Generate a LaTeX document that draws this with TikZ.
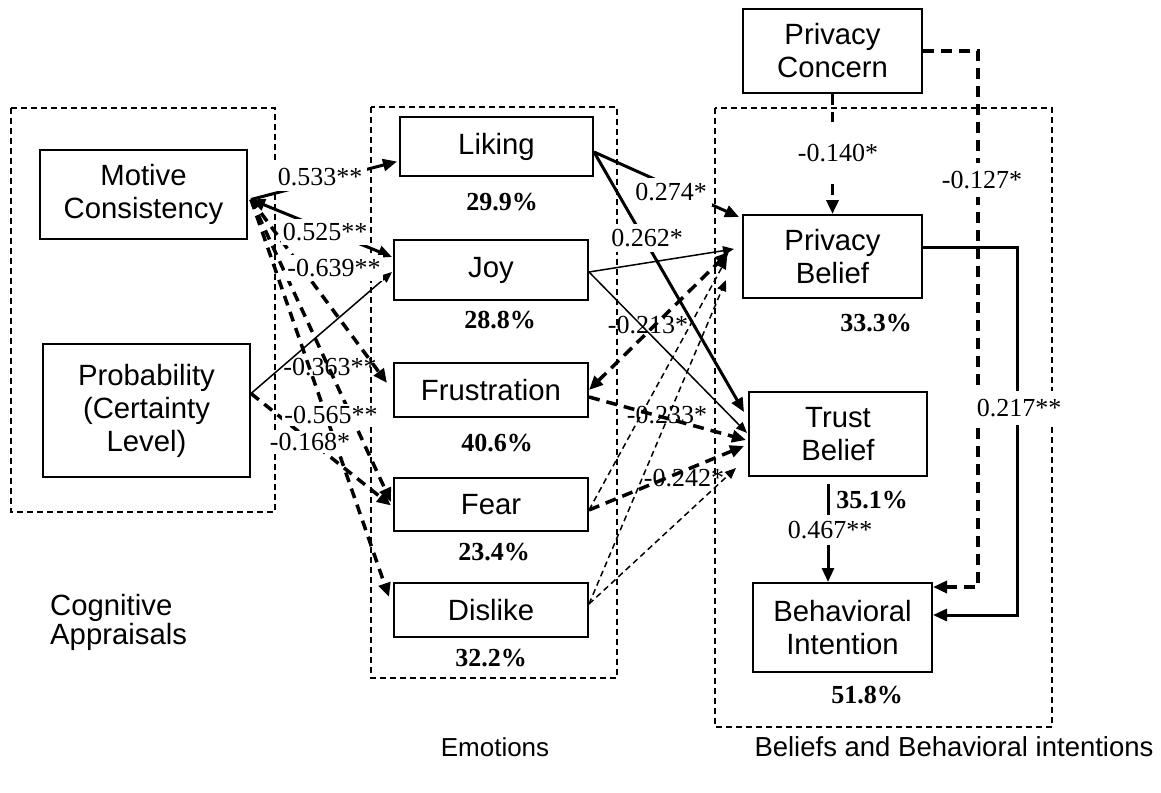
\documentclass[tikz,border=0pt]{standalone}
\usepackage{fontspec}
\setmainfont{Liberation Sans}
\newfontfamily\tnr{Liberation Serif}
\usetikzlibrary{arrows.meta,calc}

\tikzset{
  fattip/.tip={Triangle[length=14pt,width=12pt]},
  thintip/.tip={Triangle[length=11pt,width=9pt]},
  box/.style={draw,line width=2pt,fill=white,align=center,inner sep=0pt,
    font=\fontsize{29.3}{33}\selectfont},
  group/.style={draw,line width=1.4pt,dash pattern=on 6pt off 4pt},
  coef/.style={font=\tnr\fontsize{26}{30}\selectfont,inner sep=0pt},
  coefw/.style={coef,fill=white,inner xsep=2pt,inner ysep=4pt},
  pct/.style={font=\tnr\bfseries\fontsize{26}{30}\selectfont,inner sep=0pt},
  caption/.style={font=\fontsize{27.5}{31}\selectfont,align=left,inner sep=0pt},
  solidfat/.style={line width=3pt,-fattip},
  solidthin/.style={line width=1.5pt,-thintip},
  dashfat/.style={line width=3.5pt,dash pattern=on 11pt off 7pt,-fattip},
  dashthin/.style={line width=1.5pt,dash pattern=on 6pt off 4pt,-thintip},
}

\begin{document}
\begin{tikzpicture}[x=1pt,y=-1pt]
\useasboundingbox (0,0) rectangle (1161,792);

% construct groups
\draw[group] (11,108) rectangle (275,512);
\draw[group] (371,107) rectangle (617,678);
\draw[group] (715,108) rectangle (1052,727);

% appraisals
\node[box,minimum width=207pt,minimum height=89pt] (mc) at (143.5,194.5) {Motive\\Consistency};
\node[box,minimum width=207pt,minimum height=133pt] (prob) at (146.5,410.5) {Probability\\(Certainty\\Level)};

% emotions
\node[box,minimum width=193pt,minimum height=59pt] (liking) at (496.5,146.5) {Liking};
\node[box,minimum width=194pt,minimum height=60pt] (joy) at (491,270) {Joy};
\node[box,minimum width=194pt,minimum height=54pt] (frus) at (491,390) {Frustration};
\node[box,minimum width=194pt,minimum height=53pt] (fear) at (491,504.5) {Fear};
\node[box,minimum width=194pt,minimum height=54pt] (dislike) at (491,610) {Dislike};

% beliefs and intention
\node[box,minimum width=179pt,minimum height=84pt] (pc) at (832.5,51) {Privacy\\Concern};
\node[box,minimum width=179pt,minimum height=83pt] (pb) at (832.5,256.5) {Privacy\\Belief};
\node[box,minimum width=178pt,minimum height=84pt] (tb) at (838,434) {Trust\\Belief};
\node[box,minimum width=179pt,minimum height=89pt] (bi) at (842.5,627.5) {Behavioral\\Intention};

% start points
\coordinate (mcout) at ([xshift=3pt,yshift=-5pt]mc.east);
\coordinate (probout) at ([yshift=17pt]prob.east);
\coordinate (likout) at ([yshift=-5.5pt]liking.east);
\coordinate (joyout) at ([yshift=-2pt]joy.east);
\coordinate (fearout) at ([yshift=-5.5pt]fear.east);
\coordinate (disout) at ([yshift=6pt]dislike.east);

% appraisals -> emotions
\draw[solidfat] (mcout) -- ([xshift=-2pt,yshift=-15pt]liking.west);
\draw[solidfat,fattip-fattip] (mcout) -- ([xshift=-1pt,yshift=13pt]joy.west);
\draw[dashfat,dash pattern=on 10pt off 7pt] (mcout) -- ([xshift=-6pt,yshift=7pt]frus.west);
\draw[dashfat,dash pattern=on 10pt off 7pt] (mcout) -- ([xshift=-2pt,yshift=2.5pt]fear.west);
\draw[dashfat,dash pattern=on 10pt off 7pt] (mcout) -- ([xshift=-4pt,yshift=13pt]dislike.west);
\draw[solidthin] (probout) -- ([xshift=-1pt,yshift=-2pt]joy.west);
\draw[dashfat,dash pattern=on 10pt off 7pt] (probout) -- ([xshift=-2pt,yshift=-1pt]fear.west);

% emotions -> beliefs
\draw[solidfat] (likout) -- ([xshift=-3pt,yshift=-3pt]pb.north west);
\draw[solidfat] (likout) -- ([xshift=-4pt,yshift=22pt]tb.west);
\draw[solidthin] (joyout) -- ([xshift=-8pt,yshift=7.5pt]pb.west);
\draw[solidthin] (joyout) -- ([xshift=-1pt,yshift=1pt]tb.west);
\draw[dashfat,fattip-fattip] (frus.east) -- ([xshift=-13pt,yshift=4.5pt]pb.west);
\draw[dashfat] ([yshift=-7pt]frus.east) -- ([xshift=-2pt,yshift=-6pt]tb.west);
\draw[dashfat] (fearout) -- ([xshift=-4pt,yshift=-12pt]tb.west);
\draw[dashthin] (fearout) -- ([xshift=-15pt,yshift=-1.5pt]pb.west);
\draw[dashthin] (disout) -- ([xshift=-16pt,yshift=-23.5pt]pb.west);
\draw[dashthin] (disout) -- ([xshift=-12pt,yshift=-34pt]tb.west);

% beliefs -> intention
\draw[dashfat] (pc.south) -- (pb.north);
\draw[dashfat] (pc.east) -- ++(55,0) |- ([yshift=-5pt]bi.north east);
\draw[solidfat] ([yshift=9.5pt]pb.east) -- ++(94,0) |- ([yshift=12.5pt]bi.east);
\coordinate (tbx) at ($(tb.south)+(-10,0)$);
\draw[solidfat] ($(tbx)+(0,7)$) -- (tbx |- bi.north);

% path coefficients
\node[coefw,inner sep=5pt] (c1) at (320,177) {0.533**};
\node[coefw] (c2) at (325,232) {0.525**};
\node[coefw] (c3) at (334,268) {-0.639**};
\node[coef] (c4) at (330,367) {-0.363**};
\node[coefw,inner ysep=2pt] (c5) at (331,415) {-0.565**};
\node[coefw,inner ysep=2pt] (c6) at (310,442) {-0.168*};
\node[coefw,inner sep=5pt] (c7) at (671,192) {0.274*};
\node[coefw,inner sep=5pt] (c8) at (647,238) {0.262*};
\node[coef] (c9) at (648,325) {-0.213*};
\node[coef] (c10) at (667,415) {-0.233*};
\node[coef] (c11) at (684,478) {-0.242*};
\node[coefw,inner ysep=22pt] (c12) at (838,153) {-0.140*};
\node[coefw,inner ysep=8pt] (c13) at (982,180) {-0.127*};
\node[coefw,inner ysep=8pt] (c14) at (1019,408) {0.217**};
\node[coefw,inner ysep=6pt] (c15) at (830,530) {0.467**};

% explained variance
\node[pct] (r1) at (502,202) {29.9\%};
\node[pct] (r2) at (500,320) {28.8\%};
\node[pct] (r3) at (497,443) {40.6\%};
\node[pct] (r4) at (494,552) {23.4\%};
\node[pct] (r5) at (491,658) {32.2\%};
\node[pct] (r6) at (876,323) {33.3\%};
\node[pct] (r7) at (872,500) {35.1\%};
\node[pct] (r8) at (867,695) {51.8\%};

% group titles
\node[caption,anchor=west,font=\fontsize{29.3}{29}\selectfont] (t1) at (50,622) {Cognitive\\Appraisals};
\node[caption,font=\fontsize{26}{30}\selectfont] (t2) at (495,747) {Emotions};
\node[caption] (t3) at (954,747) {Beliefs and Behavioral intentions};
\end{tikzpicture}
\end{document}
